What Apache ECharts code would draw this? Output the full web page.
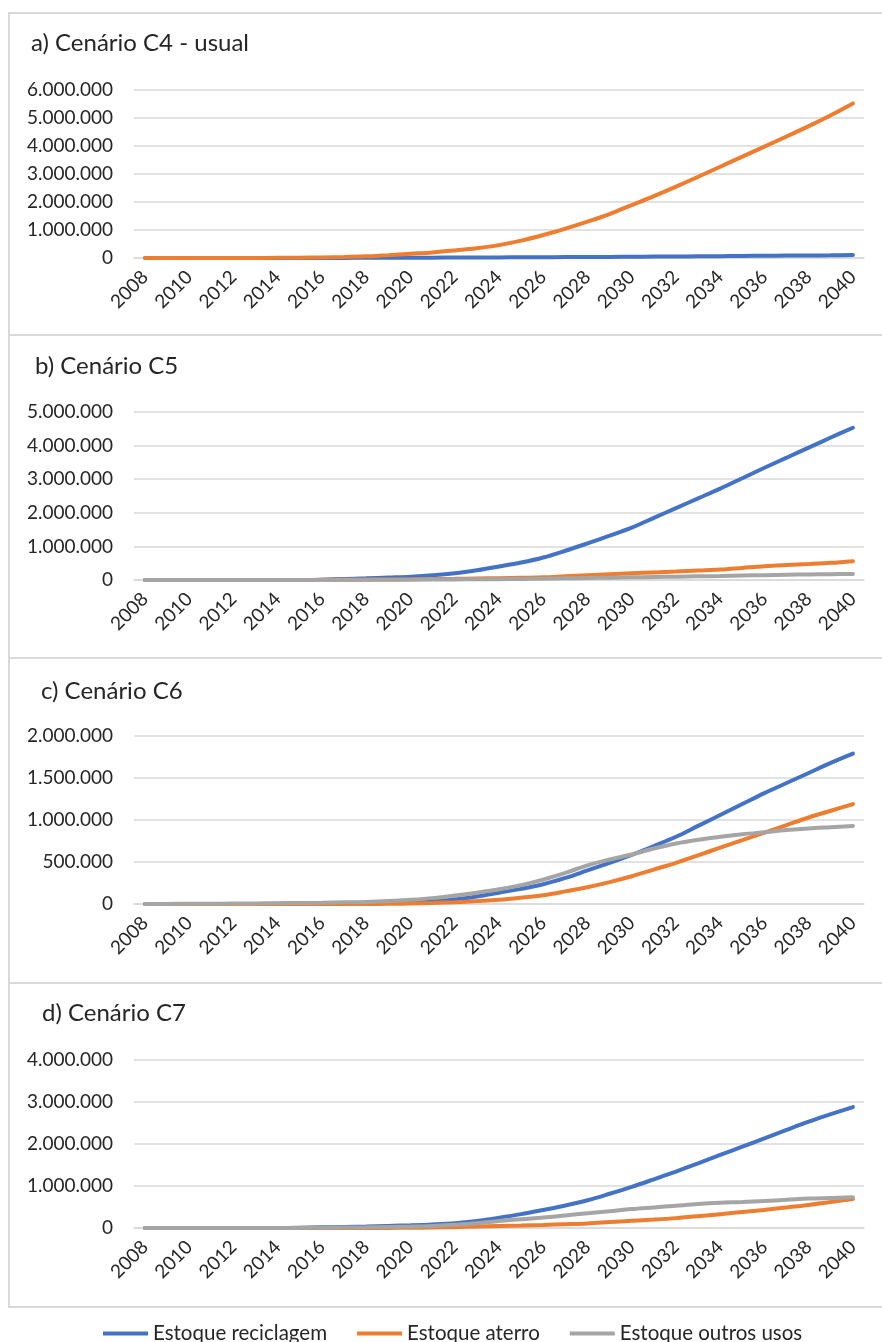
<!DOCTYPE html>
<html>
<head>
<meta charset="utf-8">
<title>Cenários C4 - C7</title>
<script src="https://cdn.jsdelivr.net/npm/echarts@6/dist/echarts.min.js"></script>
<style>
	html, body { margin: 0; padding: 0; background: #fff; }
	#mainChart { width: 882px; height: 1342px; }
</style>
</head>
<body>
<div id="mainChart"></div>
<script>
	/* anos */
	var years = ['2008', '2009', '2010', '2011', '2012', '2013', '2014', '2015', '2016', '2017', '2018',
		'2019', '2020', '2021', '2022', '2023', '2024', '2025', '2026', '2027', '2028', '2029', '2030',
		'2031', '2032', '2033', '2034', '2035', '2036', '2037', '2038', '2039', '2040'];

	var seriesNames = ['Estoque reciclagem', 'Estoque aterro', 'Estoque outros usos'];
	var panelTitles = ['a) Cenário C4 - usual', 'b) Cenário C5', 'c) Cenário C6', 'd) Cenário C7'];

	/* eixo y de cada painel */
	var yMax = [6000000, 5000000, 2000000, 4000000];
	var yStep = [1000000, 1000000, 500000, 1000000];

	/* a) C4 */
	var c4Reciclagem = [0, 0, 0, 0, 0, 0, 0, 0, 2000, 4000, 6000, 8000, 10000, 13000, 16000, 19000, 22000,
		25000, 28000, 32000, 36000, 40000, 45000, 50000, 55000, 60000, 65000, 72000, 80000, 85000, 90000, 95000, 110000];
	var c4Aterro = [0, 0, 0, 0, 0, 2000, 5000, 10000, 20000, 35000, 60000, 100000, 150000, 200000, 270000,
		350000, 460000, 620000, 820000, 1050000, 1300000, 1570000, 1890000, 2210000, 2550000, 2900000,
		3260000, 3620000, 3980000, 4340000, 4710000, 5100000, 5520000];

	/* b) C5 */
	var c5Reciclagem = [0, 0, 0, 0, 0, 0, 0, 0, 10000, 30000, 50000, 75000, 100000, 140000, 200000, 290000,
		400000, 520000, 670000, 870000, 1090000, 1320000, 1560000, 1850000, 2140000, 2430000, 2720000,
		3030000, 3340000, 3640000, 3940000, 4240000, 4530000];
	var c5Aterro = [0, 0, 0, 0, 0, 0, 0, 2000, 5000, 7000, 10000, 15000, 20000, 27000, 35000, 45000, 55000,
		67000, 80000, 110000, 140000, 170000, 200000, 225000, 250000, 280000, 310000, 360000, 410000,
		445000, 475000, 510000, 560000];
	var c5Outros = [0, 0, 0, 0, 0, 0, 0, 0, 2000, 4000, 6000, 8000, 10000, 15000, 18000, 21000, 25000,
		32000, 40000, 50000, 60000, 70000, 80000, 90000, 100000, 110000, 120000, 132000, 145000, 155000,
		165000, 172000, 180000];

	/* c) C6 */
	var c6Reciclagem = [0, 0, 0, 0, 0, 0, 2000, 3000, 5000, 7000, 10000, 15000, 20000, 35000, 55000, 90000,
		135000, 180000, 235000, 310000, 400000, 490000, 585000, 690000, 800000, 930000, 1060000, 1190000,
		1320000, 1440000, 1560000, 1680000, 1790000];
	var c6Aterro = [0, 0, 0, 0, 0, 0, 0, 0, 0, 0, 0, 2000, 5000, 12000, 22000, 35000, 50000, 75000, 105000,
		150000, 200000, 260000, 330000, 410000, 490000, 580000, 670000, 760000, 850000, 940000, 1030000,
		1110000, 1190000];
	var c6Outros = [0, 1000, 2000, 3000, 5000, 7000, 10000, 12000, 15000, 20000, 25000, 35000, 50000, 70000,
		100000, 135000, 175000, 225000, 290000, 370000, 460000, 530000, 590000, 660000, 720000, 765000,
		800000, 830000, 855000, 880000, 900000, 915000, 930000];

	/* d) C7 */
	var c7Reciclagem = [0, 0, 0, 0, 0, 0, 0, 5000, 15000, 25000, 35000, 50000, 65000, 85000, 115000, 170000,
		245000, 330000, 430000, 535000, 660000, 815000, 980000, 1160000, 1345000, 1540000, 1740000,
		1935000, 2135000, 2335000, 2530000, 2710000, 2880000];
	var c7Aterro = [0, 0, 0, 0, 0, 0, 0, 0, 0, 0, 0, 2000, 5000, 12000, 20000, 35000, 50000, 60000, 72000,
		90000, 110000, 140000, 170000, 200000, 235000, 280000, 330000, 380000, 430000, 490000, 550000,
		620000, 690000];
	var c7Outros = [0, 0, 0, 0, 0, 0, 0, 2000, 5000, 10000, 15000, 25000, 35000, 50000, 75000, 115000,
		165000, 210000, 250000, 300000, 350000, 400000, 450000, 490000, 530000, 570000, 600000, 620000,
		645000, 670000, 700000, 715000, 730000];

	var panelData = [
		[c4Reciclagem, c4Aterro],
		[c5Reciclagem, c5Aterro, c5Outros],
		[c6Reciclagem, c6Aterro, c6Outros],
		[c7Reciclagem, c7Aterro, c7Outros]
	];

	var colors = ['#4472C4', '#ED7D31', '#A5A5A5'];
	var fontName = 'Lato, "Open Sans", sans-serif';
	var textColor = '#262626';

	/* posição dos painéis */
	var gridTop = [90, 412, 736, 1060];
	var boxTop = [13, 335, 658, 983];
	var boxBottom = [335, 658, 983, 1307];
	var titleTop = [26, 349, 674, 996];
	var titleLeft = [26, 30, 36, 37];

	function fmtNum(v) {
		return String(v).replace(/\B(?=(\d{3})+(?!\d))/g, '.');
	}

	var grids = [], xAxes = [], yAxes = [], titles = [], series = [], graphics = [];

	for (var i = 0; i < 4; i++) {
		grids.push({
			left: 134,
			right: 18,
			top: gridTop[i],
			height: 168
		});
		titles.push({
			text: panelTitles[i],
			left: titleLeft[i],
			top: titleTop[i],
			textStyle: {
				fontFamily: fontName,
				fontSize: 24,
				fontWeight: 'normal',
				color: textColor
			}
		});
		xAxes.push({
			type: 'category',
			gridIndex: i,
			data: years,
			boundaryGap: true,
			axisLine: { show: true, lineStyle: { color: '#D9D9D9', width: 1.5 } },
			axisTick: { show: false },
			axisLabel: {
				interval: 1,
				rotate: 45,
				margin: 16,
				fontFamily: fontName,
				fontSize: 19,
				color: textColor
			}
		});
		yAxes.push({
			type: 'value',
			gridIndex: i,
			min: 0,
			max: yMax[i],
			interval: yStep[i],
			axisLine: { show: false },
			axisTick: { show: false },
			splitLine: { lineStyle: { color: '#D9D9D9', width: 1.5 } },
			axisLabel: {
				margin: 21,
				fontFamily: fontName,
				fontSize: 19,
				color: textColor,
				formatter: fmtNum
			}
		});
		for (var k = 0; k < panelData[i].length; k++) {
			series.push({
				name: seriesNames[k],
				type: 'line',
				xAxisIndex: i,
				yAxisIndex: i,
				data: panelData[i][k],
				smooth: 0.35,
				symbol: 'none',
				color: colors[k],
				lineStyle: { width: 4, color: colors[k], cap: 'round' },
				z: 2 + k
			});
		}
		graphics.push({
			type: 'rect',
			shape: { x: 9, y: boxTop[i], width: 900, height: boxBottom[i] - boxTop[i] },
			style: { fill: 'none', stroke: '#D9D9D9', lineWidth: 2 },
			z: -1
		});
	}

	var mainOption = {
		backgroundColor: '#fff',
		animation: false,
		color: colors,
		title: titles,
		grid: grids,
		xAxis: xAxes,
		yAxis: yAxes,
		legend: {
			data: seriesNames,
			left: 98,
			top: 1318,
			icon: 'rect',
			itemWidth: 45,
			itemHeight: 4,
			itemGap: 30,
			textStyle: {
				fontFamily: fontName,
				fontSize: 20.5,
				color: textColor
			}
		},
		graphic: graphics,
		series: series
	};

	function setInit(id, option) {
		var chart = echarts.init(document.getElementById(id));
		chart.setOption(option);
		window.addEventListener('resize', function() {
			chart.resize();
		});
	}

	setInit('mainChart', mainOption);
</script>
</body>
</html>
